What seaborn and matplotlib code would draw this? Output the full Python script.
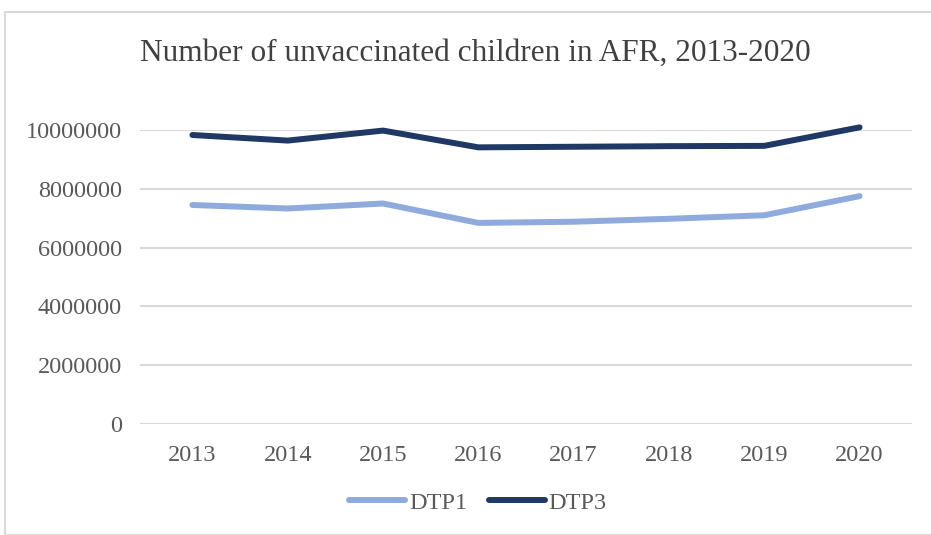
import matplotlib
matplotlib.use("Agg")
import matplotlib.pyplot as plt
import seaborn as sns
import pandas as pd
from matplotlib.patches import Rectangle
from matplotlib.lines import Line2D

years = ["2013", "2014", "2015", "2016", "2017", "2018", "2019", "2020"]
dtp1 = [7450000, 7330000, 7500000, 6840000, 6880000, 6980000, 7100000, 7750000]
dtp3 = [9830000, 9640000, 9980000, 9410000, 9430000, 9450000, 9460000, 10090000]
series_names = ["DTP1", "DTP3"]
series_colors = ["#8FAADC", "#1F3864"]
y_ticks = [0, 2000000, 4000000, 6000000, 8000000, 10000000]

df = pd.DataFrame({"year": years * 2,
                   "value": dtp1 + dtp3,
                   "series": ["DTP1"] * len(years) + ["DTP3"] * len(years)})

sns.set_theme(style="white")
plt.rcParams["font.family"] = ["Liberation Serif", "DejaVu Serif"]
text_color = "#595959"
label_size = 17.5

fig = plt.figure(figsize=(9.31, 5.35), dpi=100)
ax = fig.add_axes([140 / 931, 1 - 424 / 535, (912 - 140) / 931, 294 / 535])

sns.lineplot(data=df, x="year", y="value", hue="series", hue_order=series_names,
             palette=series_colors, linewidth=4.3, ax=ax, legend=False,
             sort=False)
for ln in ax.get_lines():
    ln.set_solid_capstyle("round")
    ln.set_solid_joinstyle("round")
    ln.set_clip_on(False)

ax.set_xlim(-0.55, len(years) - 0.45)
ax.set_ylim(0, 10000000)
ax.set_yticks(y_ticks)
ax.set_yticklabels([str(v) for v in y_ticks])
ax.yaxis.grid(True, color="#d9d9d9", linewidth=1.5)
ax.set_axisbelow(True)
for s in ax.spines.values():
    s.set_visible(False)
ax.tick_params(axis="both", length=0, labelsize=label_size, colors=text_color)
ax.tick_params(axis="y", pad=13)
ax.tick_params(axis="x", pad=15)
ax.set_xlabel("")
ax.set_ylabel("")

fig.text(475 / 931, 1 - 53 / 535, "Number of unvaccinated children in AFR, 2013-2020",
         ha="center", va="center", fontsize=22.5, color="#404040")

handles = [Line2D([0], [0], color=c, linewidth=4.3, solid_capstyle="round")
           for c in series_colors]
fig.legend(handles, series_names, loc="center", bbox_to_anchor=(478 / 931, 1 - 503 / 535),
           ncol=2, frameon=False, fontsize=label_size, labelcolor=text_color,
           handlelength=2.3, handletextpad=0.15, columnspacing=0.9)

fig.patches.append(Rectangle((5 / 931, 0), 1.0, 1 - 12 / 535, transform=fig.transFigure,
                             fill=False, edgecolor="#d9d9d9", linewidth=1.5))

fig.savefig("out.png", dpi=100)
